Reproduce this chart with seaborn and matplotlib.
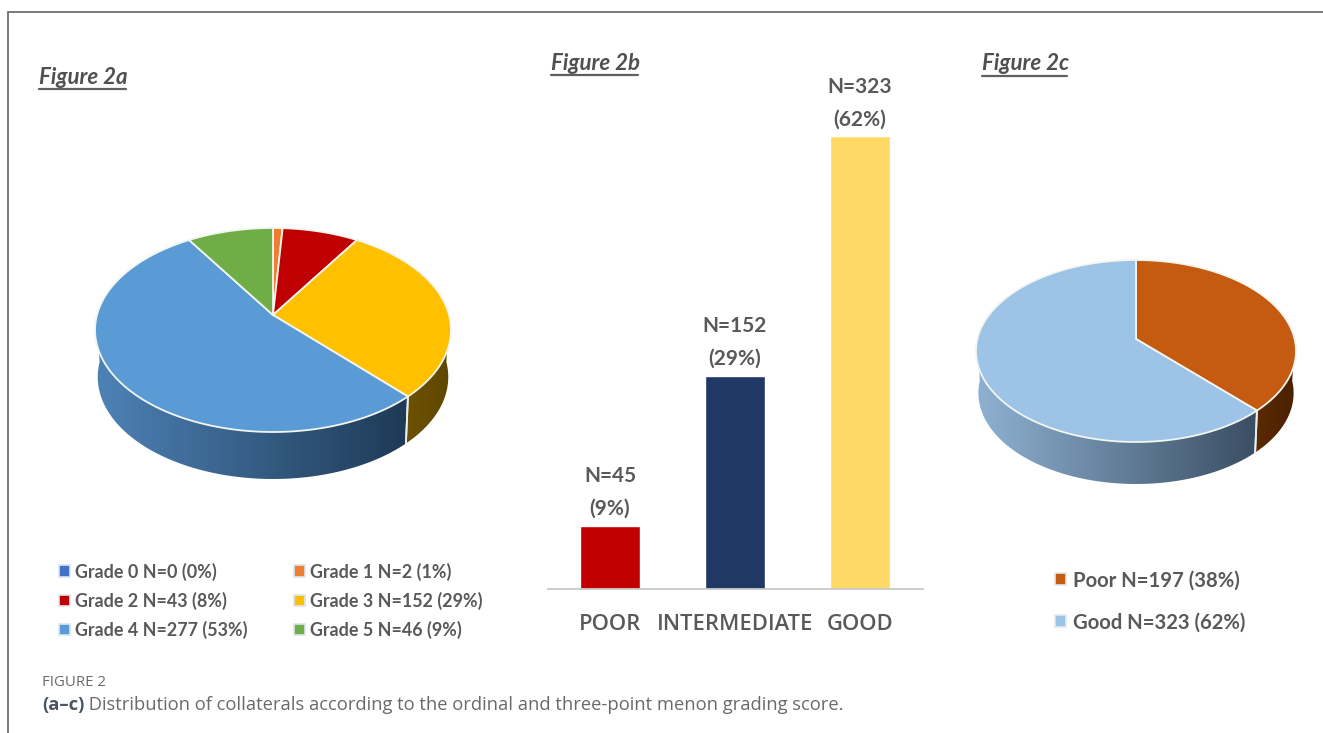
import numpy as np
import pandas as pd
import matplotlib
matplotlib.use('Agg')
import matplotlib.pyplot as plt
from matplotlib.colors import LinearSegmentedColormap
from matplotlib.patches import Patch, Polygon
import seaborn as sns

# Figure 2a
grade_labels = ['Grade 0 N=0 (0%)', 'Grade 1 N=2 (1%)', 'Grade 2 N=43 (8%)',
                'Grade 3 N=152 (29%)', 'Grade 4 N=277 (53%)', 'Grade 5 N=46 (9%)']
grade_pct = [0, 1, 8, 29, 53, 9]
grade_colors = ['#4472C4', '#ED7D31', '#C00000', '#FFC000', '#5B9BD5', '#70AD47']
grade_sides = [None, None, None, ('#6E5200', '#5E4600'), ('#4E82B6', '#1E3A56'), None]

# Figure 2b
bar_cats = ['POOR', 'INTERMEDIATE', 'GOOD']
bar_n = [45, 152, 323]
bar_labels = ['N=45\n(9%)', 'N=152\n(29%)', 'N=323\n(62%)']
bar_colors = ['#C00000', '#1F3864', '#FFD966']

# Figure 2c
score_labels = ['Poor N=197 (38%)', 'Good N=323 (62%)']
score_n = [197, 323]
score_colors = ['#C55A11', '#9DC3E6']
score_sides = [('#5C2A04', '#4A2000'), ('#8FB2D2', '#3A4E64')]

W, H = 1323, 733
NARROW = ['Lato', 'DejaVu Sans']
GREY = '#595959'

sns.set_theme(style='white')
plt.rcParams['font.family'] = ['Open Sans', 'DejaVu Sans']

fig = plt.figure(figsize=(W / 100, H / 100), dpi=100, facecolor='white')
ax = fig.add_axes([0, 0, 1, 1])    # canvas in picture pixels
ax.set_xlim(0, W)
ax.set_ylim(H, 0)
ax.axis('off')


def pie3d(values, colors, sides, cx, cy, a, b, k, depth, shrink):
    # tilted pie, clockwise from 12 o'clock, k is the perspective of the tilt
    def top(t):
        return (cx + a * np.sin(t) / (1 + k * np.cos(t)),
                cy - b * np.cos(t) / (1 + k * np.cos(t)))

    def low(t):
        x, y = top(t)
        return cx + (x - cx) * shrink, y + depth

    edges = np.radians(np.cumsum([0] + list(values)) / sum(values) * 360)
    for i in range(len(values)):
        if values[i] == 0:
            continue
        t0, t1 = max(edges[i], np.pi / 2), min(edges[i + 1], 3 * np.pi / 2)
        if sides[i] is not None and t1 > t0:
            t = np.linspace(t0, t1, 150)
            x1, y1 = top(t)
            x2, y2 = low(t[::-1])
            poly = Polygon(np.column_stack([np.r_[x1, x2], np.r_[y1, y2]]), transform=ax.transData,
                           fc='none', ec='none')
            ax.add_patch(poly)
            cmap = LinearSegmentedColormap.from_list('side', sides[i])
            # light end sits on the left of the picture
            im = ax.imshow(np.linspace(0, 1, 256).reshape(1, -1), cmap=cmap, aspect='auto',
                           extent=(min(x1.min(), x2.min()), max(x1.max(), x2.max()),
                                   max(y1.max(), y2.max()), min(y1.min(), y2.min())),
                           zorder=2)
            im.set_clip_path(poly)
            # divider down the rim at the slice ends
            for e in (edges[i], edges[i + 1]):
                if np.pi / 2 < e < 3 * np.pi / 2:
                    ax.plot([top(e)[0], low(e)[0]], [top(e)[1], low(e)[1]], color='#E8EEF2', lw=1.3, zorder=3)
    for i in range(len(values)):
        if values[i] == 0:
            continue
        t = np.linspace(edges[i], edges[i + 1], 200)
        x, y = top(t)
        ax.fill(np.r_[cx, x], np.r_[cy, y], facecolor=colors[i], edgecolor='#F2F5F0', lw=1.3,
                joinstyle='round', zorder=4)


pie3d(grade_pct, grade_colors, grade_sides, 273, 315, 176, 99.8, 0.147, 47, 0.985)
pie3d(score_n, score_colors, score_sides, 1136, 339, 158.6, 89.4, 0.132, 42, 0.985)
ax.set_xlim(0, W)
ax.set_ylim(H, 0)

# frame, open on the right and at the bottom
ax.plot([7.5, 7.5, W], [H, 11.5, 11.5], color='#6E6E6E', lw=1.3, solid_joinstyle='miter')

# panel titles
for txt, x0, x1, yc, yu in [('Figure 2a', 39, 126, 78, 89),
                            ('Figure 2b', 551, 638, 63, 75),
                            ('Figure 2c', 982, 1067, 63, 76)]:
    ax.text(x0, yc, txt, family=NARROW, fontsize=16, fontweight='bold', fontstyle='italic',
            color='#505050', va='center', ha='left')
    ax.plot([x0, x1], [yu, yu], color='#606060', lw=1.6)

# legends, the picture reads by row and a legend fills by column
order = [0, 2, 4, 1, 3, 5]
handles_a = [Patch(fc=c, ec='#DCE6F0', lw=1.2) for c in grade_colors]
leg_a = ax.legend([handles_a[i] for i in order], [grade_labels[i] for i in order], ncol=2,
                  loc='center left', bbox_to_anchor=(59, 600.5), bbox_transform=ax.transData,
                  frameon=False, prop={'family': NARROW, 'size': 12.9, 'weight': 'bold'},
                  labelcolor=GREY, handlelength=0.6, handleheight=0.6, handletextpad=0.3,
                  labelspacing=0.61, columnspacing=2.6, borderpad=0, borderaxespad=0)
ax.add_artist(leg_a)

handles_c = [Patch(fc=c, ec='#E4E8EE', lw=1.2) for c in score_colors]
ax.legend(handles_c, score_labels, loc='center left', bbox_to_anchor=(1055, 601.5),
          bbox_transform=ax.transData, frameon=False, prop={'family': NARROW, 'size': 14.6, 'weight': 'bold'},
          labelcolor=GREY, handlelength=0.55, handleheight=0.55, handletextpad=0.35,
          labelspacing=1.08, borderpad=0, borderaxespad=0)

# caption
ax.text(42, 682, 'FIGURE 2', fontsize=10.8, color='#6A6A6A', va='center', ha='left')
t_ac = ax.text(42, 705, '(a\u2013c)', fontsize=13.2, fontweight='bold', color='#4A5560', va='center', ha='left')
ax.annotate(' Distribution of collaterals according to the ordinal and three-point menon grading score.',
            xy=(1, 0.5), xycoords=t_ac, va='center', ha='left', fontsize=13.2, color='#6A6A6A')

# Figure 2b bars
df = pd.DataFrame({'grade': bar_cats, 'n': bar_n})
px_per_n = 1.40
ymax = 350
axb = fig.add_axes([547.5 / W, (H - 588.5) / H, 375 / W, ymax * px_per_n / H])
axb.patch.set_alpha(0)
sns.barplot(data=df, x='grade', y='n', hue='grade', palette=bar_colors, order=bar_cats,
            hue_order=bar_cats, legend=False, width=0.476, saturation=1, ax=axb)
axb.set_xlim(-0.5, 2.5)
axb.set_ylim(0, ymax)
axb.set_xlabel('')
axb.set_ylabel('')
axb.set_yticks([])
sns.despine(ax=axb, left=True)
axb.spines['bottom'].set_color('#C8C8C8')
axb.spines['bottom'].set_linewidth(1.3)
axb.tick_params(axis='x', length=0, pad=18, labelsize=15.8, labelcolor=GREY)
for lab in axb.get_xticklabels():
    lab.set_fontweight('semibold')
for cont, txt in zip(axb.containers, bar_labels):
    axb.bar_label(cont, labels=[txt], padding=5, family=NARROW, fontsize=15, fontweight='bold',
                  color=GREY, linespacing=1.78)

fig.savefig('out.png', dpi=100, facecolor='white')
